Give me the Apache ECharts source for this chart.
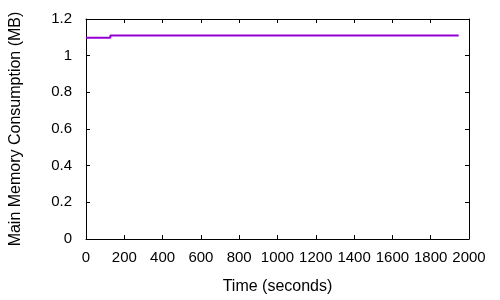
<!DOCTYPE html>
<html>
<head>
<meta charset="utf-8">
<script src="https://cdn.jsdelivr.net/npm/echarts@6/dist/echarts.min.js"></script>
<style>
  html, body { margin: 0; padding: 0; background: #fff; }
  #chart { width: 500px; height: 300px; }
</style>
</head>
<body>
<div id="chart"></div>
<script>
// memory trace (seconds, MB)
const times = [0, 127, 127, 1946];
const memory = [1.098, 1.098, 1.11, 1.11];

const xTicks = { min: 0, max: 2000, interval: 200 };
const yTicks = { min: 0, max: 1.2, interval: 0.2 };

const font = 'Liberation Sans, Arial, sans-serif';

const chart = echarts.init(document.getElementById('chart'));

const baseAxis = {
  axisLine: { show: true, onZero: false, lineStyle: { color: '#000', width: 1 } },
  axisTick: { show: true, inside: true, length: 4, lineStyle: { color: '#000' } },
  splitLine: { show: false }
};

const option = {
  animation: false,
  grid: { left: 84, right: 31, top: 19, bottom: 61 },
  xAxis: [
    Object.assign({}, baseAxis, {
      type: 'value', position: 'bottom',
      min: xTicks.min, max: xTicks.max, interval: xTicks.interval,
      name: 'Time (seconds)', nameLocation: 'middle', nameGap: 40,
      nameTextStyle: { color: '#000', fontSize: 16, fontFamily: font },
      axisLabel: { color: '#000', fontSize: 15, fontFamily: font, margin: 11,
        formatter: v => String(v) }
    }),
    Object.assign({}, baseAxis, {
      type: 'value', position: 'top',
      min: xTicks.min, max: xTicks.max, interval: xTicks.interval,
      axisLabel: { show: false }
    })
  ],
  yAxis: [
    Object.assign({}, baseAxis, {
      type: 'value', position: 'left',
      min: yTicks.min, max: yTicks.max, interval: yTicks.interval,
      name: 'Main Memory Consumption (MB)', nameLocation: 'middle', nameGap: 62,
      nameTextStyle: { color: '#000', fontSize: 16, fontFamily: font },
      axisLabel: { color: '#000', fontSize: 15, fontFamily: font, margin: 14,
        formatter: v => String(Math.round(v * 10) / 10) }
    }),
    Object.assign({}, baseAxis, {
      type: 'value', position: 'right',
      min: yTicks.min, max: yTicks.max, interval: yTicks.interval,
      axisLabel: { show: false }
    })
  ],
  series: [{
    type: 'line',
    data: times.map((t, i) => [t, memory[i]]),
    showSymbol: false,
    lineStyle: { color: '#9400d3', width: 2 },
    itemStyle: { color: '#9400d3' }
  }]
};

chart.setOption(option);
</script>
</body>
</html>
